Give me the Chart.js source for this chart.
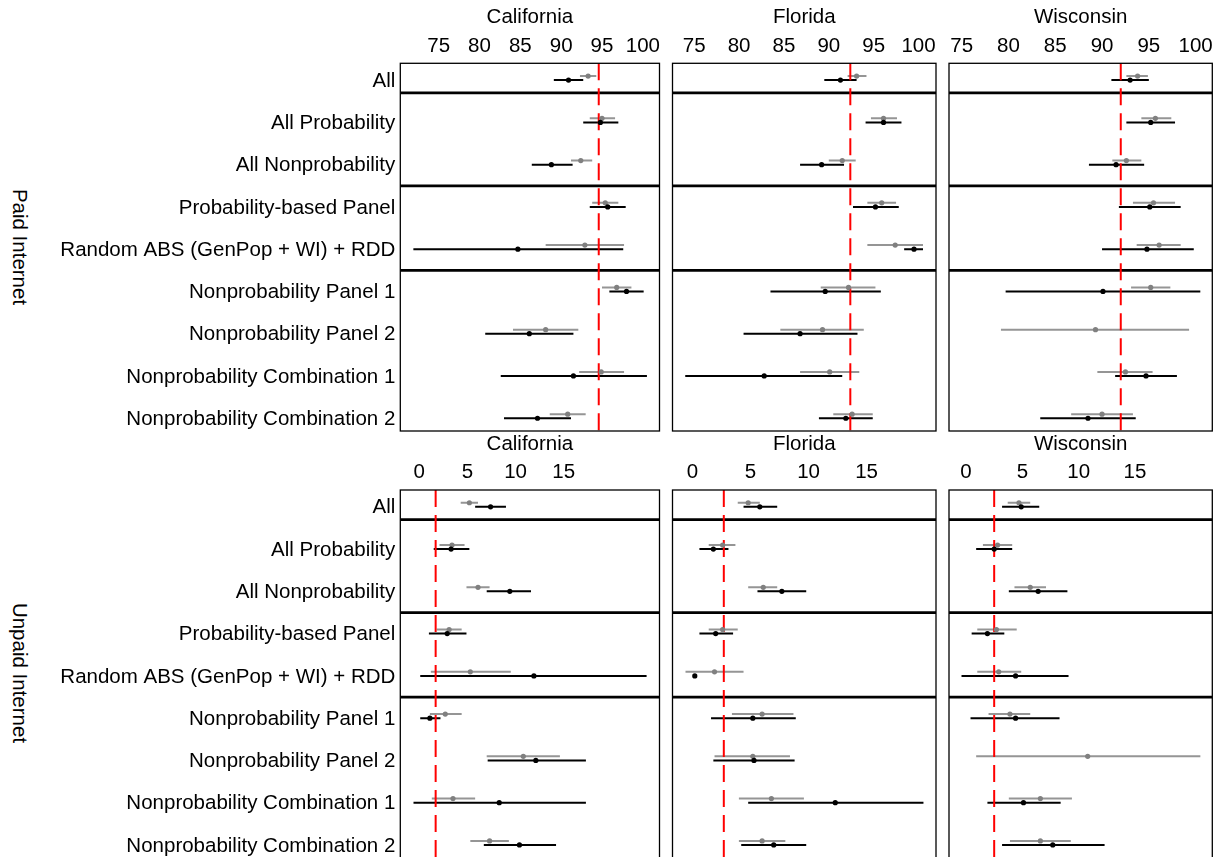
<!DOCTYPE html>
<html><head><meta charset="utf-8">
<script src="https://cdn.jsdelivr.net/npm/chart.js@4"></script>
<style>
html,body{margin:0;padding:0;background:#fff;overflow:hidden;width:1221px;height:857px;}
canvas{position:absolute;}
.strip{position:absolute;font-family:"Liberation Sans",Arial,sans-serif;font-size:20.5px;color:#000;white-space:nowrap;transform:translate(-50%,-50%) rotate(90deg);}
</style></head><body>
<div class="strip" style="left:20px;top:247px">Paid Internet</div>
<div class="strip" style="left:20px;top:673px">Unpaid Internet</div>
<script>
// ---------- data ----------
const categories = ["All","All Probability","All Nonprobability","Probability-based Panel",
  "Random ABS (GenPop + WI) + RDD","Nonprobability Panel 1","Nonprobability Panel 2",
  "Nonprobability Combination 1","Nonprobability Combination 2"];
const states = ["California","Florida","Wisconsin"];
const paidTicks = [75,80,85,90,95,100];
const unpaidTicks = [0,5,10,15];
const paidReference = [94.6, 92.4, 92.0];
const unpaidReference = [1.7, 2.7, 2.5];

// each entry: [estimate, lower, upper]
const paidCaliforniaGray = [[93.3,92.3,94.3],[95.0,93.5,96.6],[92.4,91.2,93.8],[95.4,93.8,97.0],[92.9,88.1,97.7],[96.8,95.0,98.6],[88.1,84.1,92.1],[94.9,92.2,97.7],[90.8,88.6,93.0]];
const paidCaliforniaBlack = [[90.9,89.1,92.7],[94.8,92.7,97.0],[88.8,86.4,91.4],[95.7,93.5,97.9],[84.7,71.9,97.6],[98.0,95.9,100.1],[86.1,80.7,91.5],[91.5,82.6,100.5],[87.1,83.0,91.2]];
const paidFloridaGray = [[93.1,92.1,94.2],[96.1,94.7,97.6],[91.5,90.0,93.0],[95.9,94.3,97.5],[97.4,94.3,100.5],[92.2,89.1,95.2],[89.3,84.6,93.9],[90.1,86.8,93.4],[92.6,90.5,94.9]];
const paidFloridaBlack = [[91.3,89.5,93.1],[96.1,94.1,98.1],[89.2,86.8,91.7],[95.2,92.7,97.8],[99.5,98.4,100.5],[89.6,83.5,95.8],[86.8,80.5,93.2],[82.8,74.0,91.5],[91.9,88.9,94.9]];
const paidWisconsinGray = [[93.8,92.6,94.9],[95.7,94.2,97.4],[92.6,91.1,94.2],[95.5,93.3,97.8],[96.1,93.7,98.4],[95.2,93.1,97.3],[89.3,79.2,99.3],[92.5,89.5,95.4],[90.0,86.7,93.3]];
const paidWisconsinBlack = [[93.0,91.0,95.0],[95.2,92.6,97.8],[91.5,88.6,94.5],[95.1,91.8,98.4],[94.8,90.0,99.8],[90.1,79.7,100.5],null,[94.7,91.4,98.0],[88.5,83.4,93.6]];
const unpaidCaliforniaGray = [[5.2,4.3,6.1],[3.4,2.1,4.7],[6.1,4.9,7.3],[3.1,1.8,4.4],[5.3,1.2,9.5],[2.7,1.1,4.4],[10.8,7.0,14.6],[3.5,1.3,5.8],[7.3,5.3,9.3]];
const unpaidCaliforniaBlack = [[7.4,5.8,9.0],[3.3,1.5,5.2],[9.4,7.0,11.6],[2.9,1.0,4.9],[11.9,0.1,23.6],[1.1,0.1,2.2],[12.1,7.1,17.3],[8.3,-0.6,17.3],[10.4,6.7,14.2]];
const unpaidFloridaGray = [[4.8,3.9,5.8],[2.6,1.4,3.7],[6.1,4.8,7.3],[2.6,1.4,3.9],[1.9,-0.6,4.4],[6.0,3.4,8.7],[5.2,1.9,8.4],[6.8,4.0,9.6],[6.0,4.0,8.0]];
const unpaidFloridaBlack = [[5.8,4.4,7.3],[1.8,0.6,3.1],[7.7,5.6,9.8],[2.0,0.6,3.5],[0.2,null,null],[5.2,1.6,8.9],[5.3,1.8,8.8],[12.3,4.8,19.9],[7.0,4.2,9.8]];
const unpaidWisconsinGray = [[4.7,3.7,5.7],[2.8,1.5,4.1],[5.7,4.3,7.1],[2.7,1.0,4.5],[2.9,1.0,4.9],[3.9,2.0,5.7],[10.8,0.9,20.8],[6.6,3.8,9.4],[6.6,3.9,9.3]];
const unpaidWisconsinBlack = [[4.9,3.2,6.5],[2.5,0.9,4.1],[6.4,3.8,9.0],[1.9,0.5,3.4],[4.4,-0.4,9.1],[4.4,0.4,8.3],null,[5.1,1.9,8.4],[7.7,3.2,12.3]];

// ---------- layout ----------
const FONT = {family:'"Liberation Sans", Arial, sans-serif', size:20.5};
const separatorY = [0.35, 2.55, 4.55];
const yMin = -0.35, yMax = 8.35, dodge = 0.048;
const columns = [
  {canvasLeft:0,   width:664, padL:0,   padR:4.5, yW:400.3, showY:true},
  {canvasLeft:668, width:272, padL:4.5, padR:4,   showY:false},
  {canvasLeft:945, width:272, padL:4,   padR:4.7, showY:false}
];
const rows = [
  {top:0,   height:435, axisH:63.3, padB:4,   titlePad:4.7, ranges:[[70.30,102.04],[72.58,101.95],[73.65,101.78]], ticks:paidTicks, ref:paidReference,
   gray:[paidCaliforniaGray,paidFloridaGray,paidWisconsinGray], black:[paidCaliforniaBlack,paidFloridaBlack,paidWisconsinBlack]},
  {top:432, height:430, axisH:58,   padB:4.3, titlePad:0,   ranges:[[-1.97,24.94],[-1.72,20.98],[-1.51,21.86]], ticks:unpaidTicks, ref:unpaidReference,
   gray:[unpaidCaliforniaGray,unpaidFloridaGray,unpaidWisconsinGray], black:[unpaidCaliforniaBlack,unpaidFloridaBlack,unpaidWisconsinBlack]}
];

function errorSegments(series, off){
  const out = [];
  series.forEach((s,i)=>{
    if (s && s[1]!=null && s[2]!=null){
      out.push({x:s[1],y:i+off},{x:s[2],y:i+off},{x:NaN,y:NaN});
    }
  });
  return out;
}
function pointsOf(series, off){
  const out = [];
  series.forEach((s,i)=>{ if (s) out.push({x:s[0],y:i+off}); });
  return out;
}

const framePlugin = {
  id:'frame',
  afterDatasetsDraw(chart){
    const {ctx, chartArea:a} = chart;
    ctx.save();
    ctx.strokeStyle = '#000'; ctx.lineWidth = 1.3;
    ctx.strokeRect(a.left, a.top, a.right-a.left, a.bottom-a.top);
    ctx.restore();
  }
};

rows.forEach((row)=>{
  columns.forEach((col, c)=>{
    const cv = document.createElement('canvas');
    cv.width = col.width; cv.height = row.height;
    cv.style.left = col.canvasLeft+'px'; cv.style.top = row.top+'px';
    cv.style.width = col.width+'px'; cv.style.height = row.height+'px';
    document.body.appendChild(cv);
    const [xMin,xMax] = row.ranges[c];
    const sepData = [];
    separatorY.forEach(y=>{ sepData.push({x:xMin,y:y},{x:xMax,y:y},{x:NaN,y:NaN}); });
    const gray = row.gray[c], black = row.black[c];
    new Chart(cv, {
      type:'scatter',
      data:{datasets:[
        {data:[{x:row.ref[c],y:yMin},{x:row.ref[c],y:yMax}], showLine:true, pointRadius:0, borderColor:'#ff0000', borderWidth:2, borderDash:[17,8], order:2},
        {data:pointsOf(black, dodge), pointRadius:2.6, backgroundColor:'#000', borderWidth:0, order:0},
        {data:pointsOf(gray, -dodge), pointRadius:2.6, backgroundColor:'#808080', borderWidth:0, order:1},
        {data:errorSegments(black, dodge), showLine:true, spanGaps:false, pointRadius:0, borderColor:'#000', borderWidth:2, order:3},
        {data:errorSegments(gray, -dodge), showLine:true, spanGaps:false, pointRadius:0, borderColor:'#959595', borderWidth:2, order:4},
        {data:sepData, showLine:true, spanGaps:false, pointRadius:0, borderColor:'#000', borderWidth:2.8, order:5}
      ]},
      options:{
        responsive:false, animation:false, events:[],
        layout:{padding:{left:col.padL, right:col.padR, top:0, bottom:row.padB}},
        plugins:{legend:{display:false}, tooltip:{enabled:false}},
        scales:{
          x:{type:'linear', position:'top', min:xMin, max:xMax,
             afterBuildTicks:s=>{ s.ticks = row.ticks.map(v=>({value:v})); },
             ticks:{font:FONT, color:'#000', padding:5, maxRotation:0, autoSkip:false},
             grid:{display:false, drawTicks:false}, border:{display:false},
             title:{display:true, text:states[c], font:FONT, color:'#000', padding:{top:row.titlePad, bottom:0}},
             afterFit:s=>{ s.height = row.axisH; s.paddingLeft = 0; s.paddingRight = 0; }},
          y:{type:'linear', reverse:true, min:yMin, max:yMax, display:col.showY,
             afterBuildTicks:s=>{ s.ticks = categories.map((_,i)=>({value:i})); },
             ticks:{font:FONT, color:'#000', padding:5, labelOffset:3, autoSkip:false, callback:v=>categories[v]},
             grid:{display:false, drawTicks:false}, border:{display:false},
             afterFit:s=>{ if (col.yW) s.width = col.yW; s.paddingTop = 0; s.paddingBottom = 0; }}
        }
      },
      plugins:[framePlugin]
    });
  });
});
</script>
</body></html>
